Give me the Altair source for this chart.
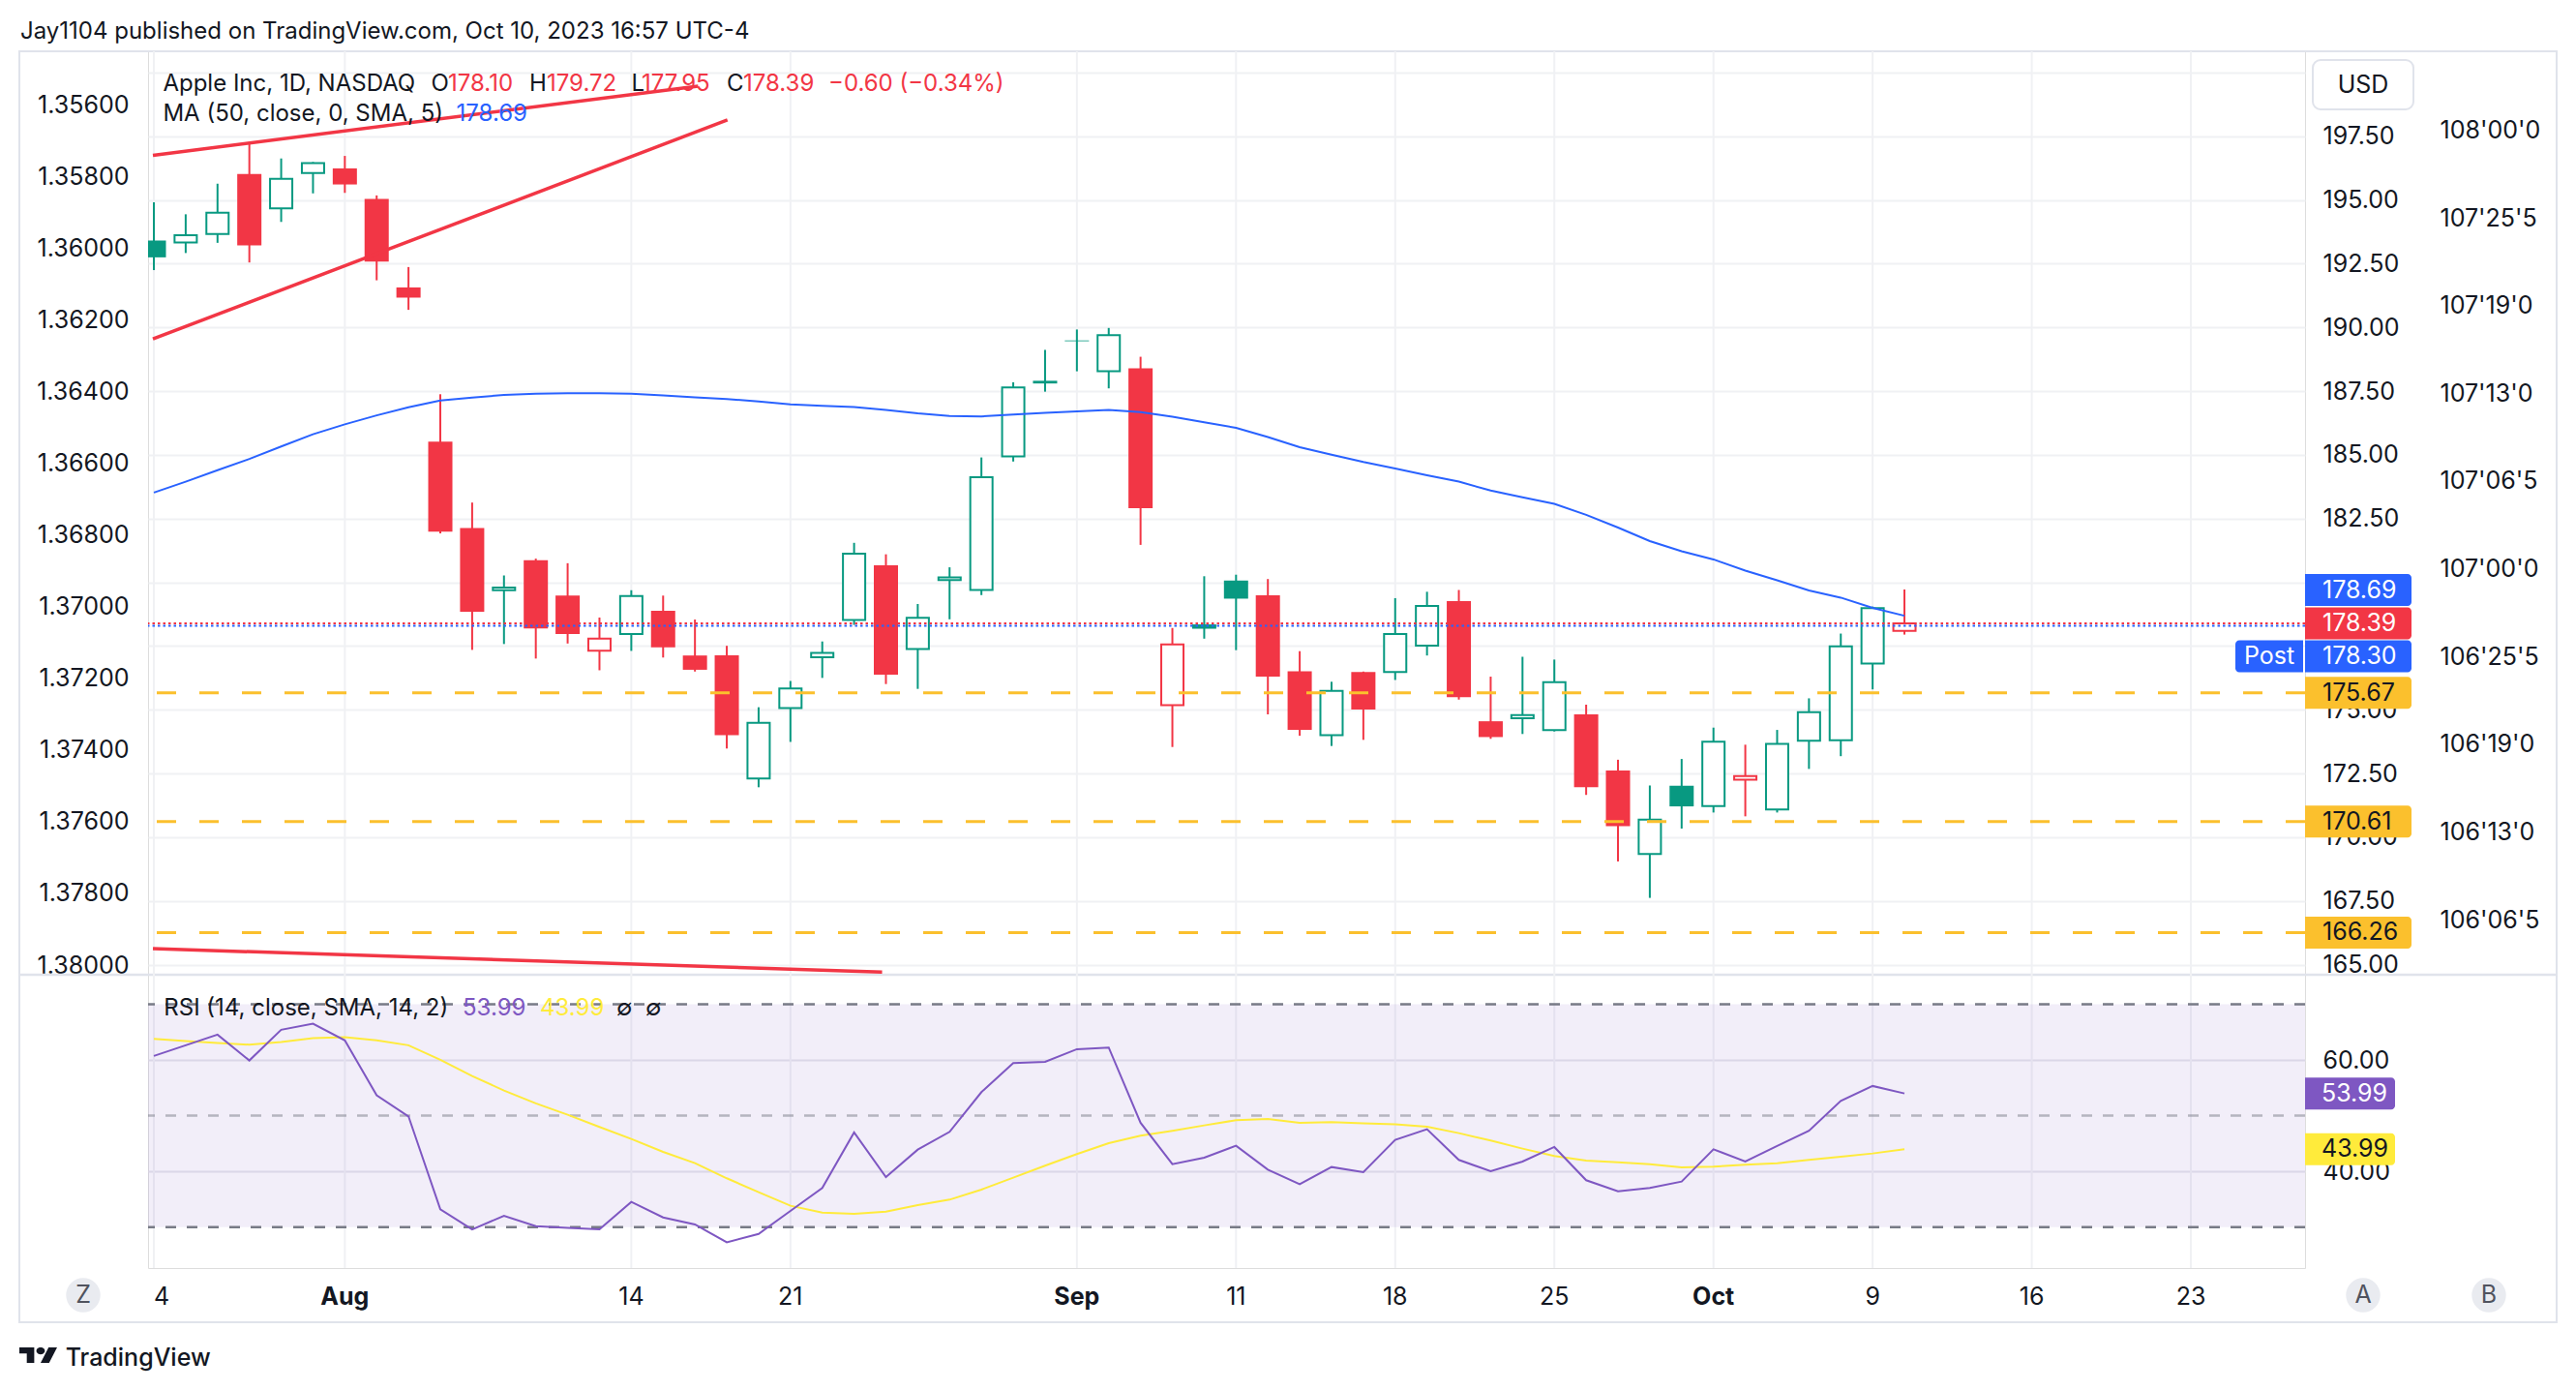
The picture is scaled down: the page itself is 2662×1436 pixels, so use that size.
import altair as alt
import pandas as pd

# ---------------- data ----------------
dates = ["2023-07-24", "2023-07-25", "2023-07-26", "2023-07-27", "2023-07-28", "2023-07-31",
         "2023-08-01", "2023-08-02", "2023-08-03", "2023-08-04", "2023-08-07", "2023-08-08",
         "2023-08-09", "2023-08-10", "2023-08-11", "2023-08-14", "2023-08-15", "2023-08-16",
         "2023-08-17", "2023-08-18", "2023-08-21", "2023-08-22", "2023-08-23", "2023-08-24",
         "2023-08-25", "2023-08-28", "2023-08-29", "2023-08-30", "2023-08-31", "2023-09-01",
         "2023-09-05", "2023-09-06", "2023-09-07", "2023-09-08", "2023-09-11", "2023-09-12",
         "2023-09-13", "2023-09-14", "2023-09-15", "2023-09-18", "2023-09-19", "2023-09-20",
         "2023-09-21", "2023-09-22", "2023-09-25", "2023-09-26", "2023-09-27", "2023-09-28",
         "2023-09-29", "2023-10-02", "2023-10-03", "2023-10-04", "2023-10-05", "2023-10-06",
         "2023-10-09", "2023-10-10"]

opens = [193.41, 193.33, 193.67, 196.02, 194.67, 196.06, 196.24, 195.04, 191.57, 185.52,
         182.13, 179.69, 180.87, 179.48, 177.32, 177.97, 178.88, 177.13, 177.14, 172.30,
         175.07, 177.06, 178.52, 180.67, 177.38, 180.09, 179.70, 184.94, 187.84, 189.49,
         188.28, 188.40, 175.18, 178.35, 180.07, 179.49, 176.51, 174.00, 176.48, 176.48,
         177.52, 179.26, 174.55, 174.67, 174.20, 174.82, 172.62, 169.34, 172.02, 171.22,
         172.26, 171.09, 173.79, 173.80, 176.81, 178.10]
highs = [194.91, 194.44, 195.64, 197.20, 196.63, 196.49, 196.73, 195.18, 192.37, 187.38,
         183.13, 180.27, 180.93, 180.75, 178.62, 179.69, 179.48, 178.54, 177.51, 175.10,
         176.13, 177.68, 181.55, 181.10, 179.15, 180.59, 184.90, 187.85, 189.12, 189.92,
         189.98, 188.85, 178.21, 180.24, 180.30, 180.13, 177.30, 176.10, 176.50, 179.38,
         179.63, 179.70, 176.30, 177.08, 176.97, 175.20, 173.04, 172.03, 173.07, 174.30,
         173.63, 174.21, 175.45, 177.99, 179.05, 179.72]
lows = [192.25, 192.92, 193.32, 192.55, 194.14, 195.26, 195.28, 191.85, 190.69, 181.92,
        177.35, 177.58, 177.01, 177.60, 176.55, 177.31, 177.05, 176.50, 173.48, 171.96,
        173.74, 176.25, 178.33, 176.01, 175.82, 178.55, 179.50, 184.74, 187.48, 188.28,
        187.61, 181.47, 173.54, 177.79, 177.34, 174.82, 173.98, 173.58, 173.82, 176.17,
        177.13, 175.40, 173.86, 174.05, 174.15, 171.66, 169.05, 167.62, 170.34, 170.97,
        170.82, 170.97, 172.68, 173.18, 175.80, 177.95]
closes = [192.75, 193.62, 194.50, 193.22, 195.83, 196.45, 195.61, 192.58, 191.17, 181.99,
          178.85, 179.80, 178.19, 177.97, 177.79, 179.46, 177.45, 176.57, 174.00, 174.49,
          175.84, 177.23, 181.12, 176.38, 178.61, 180.19, 184.12, 187.65, 187.87, 189.46,
          189.70, 182.91, 177.56, 178.18, 179.36, 176.30, 174.21, 175.74, 175.01, 177.97,
          179.07, 175.49, 173.93, 174.79, 176.08, 171.96, 170.43, 170.69, 171.21, 173.75,
          172.40, 173.66, 174.91, 177.49, 178.99, 178.39]
prev_close_first = 191.94

ma50 = [183.52, 183.95, 184.40, 184.84, 185.33, 185.81, 186.20, 186.55, 186.87, 187.13,
        187.25, 187.35, 187.40, 187.42, 187.42, 187.40, 187.33, 187.26, 187.19, 187.10,
        186.98, 186.93, 186.88, 186.76, 186.63, 186.53, 186.51, 186.58, 186.65, 186.71,
        186.76, 186.68, 186.50, 186.28, 186.06, 185.70, 185.30, 185.01, 184.72, 184.47,
        184.20, 183.95, 183.60, 183.34, 183.08, 182.65, 182.15, 181.62, 181.22, 180.90,
        180.46, 180.08, 179.68, 179.40, 179.00, 178.69]

rsi = [60.73, 62.64, 64.55, 59.91, 65.42, 66.52, 63.51, 53.65, 49.88, 33.19,
       29.59, 32.03, 30.17, 29.88, 29.59, 34.52, 31.74, 30.47, 27.28, 28.78,
       32.90, 37.02, 46.99, 38.99, 43.91, 47.10, 54.23, 59.45, 59.68, 61.94,
       62.23, 48.72, 41.30, 42.46, 44.61, 40.32, 37.71, 40.78, 39.86, 45.65,
       47.57, 42.06, 40.03, 41.77, 44.38, 38.41, 36.44, 37.02, 38.17, 43.97,
       41.77, 44.55, 47.28, 52.67, 55.33, 53.99]
rsi_ma = [63.80, 63.39, 63.04, 62.75, 63.22, 63.91, 64.09, 63.51, 62.64, 60.03,
          57.13, 54.52, 52.20, 50.17, 47.97, 45.83, 43.51, 41.48, 38.76, 36.26,
          33.83, 32.61, 32.38, 32.78, 33.94, 34.93, 36.73, 38.87, 41.02, 43.10,
          45.07, 46.41, 47.28, 48.26, 49.19, 49.40, 48.72, 48.84, 48.61, 48.44,
          48.03, 46.87, 45.54, 44.09, 42.76, 41.94, 41.65, 41.30, 40.73, 40.84,
          41.19, 41.48, 42.06, 42.64, 43.22, 43.99]

support_levels = [175.67, 170.61, 166.26]
last_price = 178.39
post_price = 178.30

trend_i = [[-0.03, 17.1], [-0.03, 18.02], [-0.03, 22.88]]
trend_p = [[196.75, 199.47], [189.55, 198.14], [165.63, 164.71]]

tick_idx = [0, 6, 15, 20, 29, 34, 39, 44, 49, 54, 59, 64]
tick_labels = ["4", "Aug", "14", "21", "Sep", "11", "18", "25", "Oct", "9", "16", "23"]
month_ticks = [6, 29, 49]
price_ticks = [165.0, 167.5, 170.0, 172.5, 175.0, 177.5, 180.0, 182.5, 185.0, 187.5,
               190.0, 192.5, 195.0, 197.5, 200.0]
price_hidden = [177.5, 180.0, 200.0]   # labels covered by the badges / USD box
rsi_ticks = [40, 60]
left_ticks = [1.356, 1.358, 1.360, 1.362, 1.364, 1.366, 1.368, 1.370, 1.372, 1.374,
              1.376, 1.378, 1.380]
bond_ticks = [108.0, 107.8, 107.6, 107.4, 107.2, 107.0, 106.8, 106.6, 106.4, 106.2]
bond_labels = ["108'00'0", "107'25'5", "107'19'0", "107'13'0", "107'06'5", "107'00'0",
               "106'25'5", "106'19'0", "106'13'0", "106'06'5"]

# ---------------- style ----------------
GREEN = "#089981"
RED = "#F23645"
BLUE = "#2962FF"
PURPLE = "#7E57C2"
YELLOW = "#FFEB3B"
AMBER = "#FBC02D"
INK = "#131722"
GRID = "#F0F1F4"
BORDER = "#E0E3EB"
GRAY = "#787B86"
FONT = "Inter"
FS = 24      # legend / header text
AFS = 25     # axis and badge numbers

W, H, PH = 2229, 1257, 954

xs = alt.Scale(domain=[-0.0303, 67.434], nice=False, zero=False)
ps = alt.Scale(domain=[164.605, 200.834], range=[PH, 0], nice=False, zero=False)
rs = alt.Scale(domain=[22.65, 75.30], range=[H, PH], nice=False, zero=False)
ls = alt.Scale(domain=[1.3545, 1.38027], range=[0, PH], nice=False, zero=False)
bs = alt.Scale(domain=[106.0744, 108.1796], range=[PH, 0], nice=False, zero=False)

common = dict(domain=False, ticks=False, tickSize=0, labelFontSize=AFS, labelColor=INK,
              labelFont=FONT, labelOverlap=False, title=None)

bond_expr = "[" + ",".join('"%s"' % s for s in bond_labels) + "][indexof([" + \
    ",".join(repr(v) for v in bond_ticks) + "], datum.value)]"
price_expr = "indexof([" + ",".join(repr(v) for v in price_hidden) + \
    "], datum.value) >= 0 ? '' : format(datum.value, '.2f')"

price_axis = alt.Axis(orient="right", values=price_ticks, labelExpr=price_expr, grid=True,
                      gridColor=GRID, gridWidth=2, labelPadding=18, labelFlush=False, **common)
rsi_axis = alt.Axis(orient="right", values=rsi_ticks, format=".2f", grid=True,
                    gridColor="#E6E6EC", gridWidth=2, labelPadding=18, labelFlush=False, **common)
left_axis = alt.Axis(orient="left", values=left_ticks, format=".5f", grid=False,
                     labelPadding=20, labelFlush=False, **common)
bond_axis = alt.Axis(orient="right", offset=120, values=bond_ticks, labelExpr=bond_expr,
                     grid=False, labelPadding=19, labelFlush=False, **common)


def X():
    return alt.X("i:Q", scale=xs, axis=None, title=None)


def YP(field, axis=None):
    return alt.Y(field + ":Q", scale=ps, axis=axis, title=None)


def YR(field, axis=None):
    return alt.Y(field + ":Q", scale=rs, axis=axis, title=None)


# ---------------- tables ----------------
n = len(closes)
prev = [prev_close_first] + closes[:-1]
candles = pd.DataFrame({
    "i": list(range(n)), "date": dates, "open": opens, "high": highs,
    "low": lows, "close": closes, "ma": ma50, "rsi": rsi, "rsi_ma": rsi_ma,
    "col": [GREEN if c >= p else RED for c, p in zip(closes, prev)],
    "hollow": [c > o for o, c in zip(opens, closes)],
})
ticks_df = pd.DataFrame({
    "i": tick_idx, "t": tick_labels,
    "month": [v in month_ticks for v in tick_idx],
    "first": [k == 0 for k in range(len(tick_idx))],
})
sup_df = pd.DataFrame({"p": support_levels})
dot_df = pd.DataFrame({"p": [last_price, post_price], "c": [RED, BLUE]})
trend_df = pd.DataFrame({
    "g": [k for k in range(len(trend_i)) for _ in range(2)],
    "i": [v for pair in trend_i for v in pair],
    "p": [v for pair in trend_p for v in pair],
})
one = pd.DataFrame({"k": [0]})

layers = []

# ---------------- decorations (back) ----------------
layers.append(alt.Chart(one).mark_rect(fillOpacity=0, stroke=BORDER, strokeWidth=2).encode(
    x=alt.value(-133), x2=alt.value(W + 260), y=alt.value(0), y2=alt.value(H + 56)))
layers.append(alt.Chart(one).mark_rule(color=BORDER, strokeWidth=2.5).encode(
    x=alt.value(-133), x2=alt.value(W + 260), y=alt.value(PH)))
# time grid + time labels (drawn through the x scale)
layers.append(alt.Chart(ticks_df).mark_rule(color=GRID, strokeWidth=2).encode(x=X()))
layers.append(alt.Chart(ticks_df).transform_filter("!datum.month && !datum.first").mark_text(
    baseline="middle", align="center", fontSize=AFS, font=FONT, color=INK).encode(
    x=X(), y=alt.value(H + 30), text="t:N"))
layers.append(alt.Chart(ticks_df).transform_filter("datum.month").mark_text(
    baseline="middle", align="center", fontSize=AFS, font=FONT, color=INK, fontWeight="bold").encode(
    x=X(), y=alt.value(H + 30), text="t:N"))
layers.append(alt.Chart(ticks_df).transform_filter("datum.first").mark_text(
    baseline="middle", align="left", fontSize=AFS, font=FONT, color=INK).encode(
    x=X(), y=alt.value(H + 30), text="t:N"))

# ---------------- RSI pane ----------------
layers.append(alt.Chart(pd.DataFrame({"lo": [30], "hi": [70]})).mark_rect(
    color=PURPLE, opacity=0.1).encode(x=alt.value(0), x2=alt.value(W), y=YR("lo"), y2="hi"))
layers.append(alt.Chart(pd.DataFrame({"v": [70, 30]})).mark_rule(
    color=GRAY, strokeWidth=2.5, strokeDash=[11, 11]).encode(y=YR("v", rsi_axis)))
layers.append(alt.Chart(pd.DataFrame({"v": [50]})).mark_rule(
    color=GRAY, opacity=0.5, strokeWidth=2.5, strokeDash=[11, 11]).encode(y=YR("v")))
layers.append(alt.Chart(candles).mark_line(color=YELLOW, strokeWidth=2, clip=True).encode(
    x=X(), y=YR("rsi_ma")))
layers.append(alt.Chart(candles).mark_line(color=PURPLE, strokeWidth=2, clip=True).encode(
    x=X(), y=YR("rsi")))

# ---------------- price pane ----------------
layers.append(alt.Chart(candles).mark_rule(strokeWidth=2, clip=True).encode(
    x=X(), y=YP("low", price_axis), y2="high", color=alt.Color("col:N", scale=None)))
layers.append(alt.Chart(candles).transform_filter("!datum.hollow").mark_bar(size=25, clip=True).encode(
    x=X(), y=YP("open"), y2="close", color=alt.Color("col:N", scale=None)))
layers.append(alt.Chart(candles).transform_filter("datum.hollow").mark_bar(
    size=23, fill="white", strokeWidth=2, clip=True).encode(
    x=X(), y=YP("open"), y2="close", stroke=alt.Stroke("col:N", scale=None)))
layers.append(alt.Chart(candles).mark_line(color=BLUE, strokeWidth=2, clip=True).encode(
    x=X(), y=YP("ma")))
layers.append(alt.Chart(sup_df).mark_rule(color=AMBER, strokeWidth=3, strokeDash=[20, 24]).encode(
    y=YP("p")))
layers.append(alt.Chart(dot_df).mark_rule(strokeWidth=2, strokeDash=[2.5, 3]).encode(
    y=YP("p"), color=alt.Color("c:N", scale=None)))
layers.append(alt.Chart(trend_df).mark_line(color=RED, strokeWidth=3.5, clip=True).encode(
    x=X(), y=YP("p"), detail="g:N"))


def badge(value, yfun, fill, tcolor, dy=0.0, x0=W, x1=W + 110, tx=W + 18, label=None,
          align="left", right_round=True):
    d = pd.DataFrame({"p": [value], "t": [label if label else "%.2f" % value]})
    corners = dict(cornerRadiusTopRight=4, cornerRadiusBottomRight=4) if right_round else \
        dict(cornerRadiusTopLeft=4, cornerRadiusBottomLeft=4)
    r = alt.Chart(d).mark_rect(color=fill, yOffset=dy - 16.5, y2Offset=dy + 16.5, **corners).encode(
        x=alt.value(x0), x2=alt.value(x1), y=yfun("p"), y2="p")
    t = alt.Chart(d).mark_text(align=align, baseline="middle", fontSize=AFS, font=FONT,
                               color=tcolor, dy=dy).encode(x=alt.value(tx), y=yfun("p"), text="t:N")
    return [r, t]


layers += badge(ma50[-1], YP, BLUE, "white", dy=-26.5)
layers += badge(last_price, YP, RED, "white")
layers += badge(post_price, YP, BLUE, "white", dy=31.6)
layers += badge(post_price, YP, BLUE, "white", dy=31.6, x0=W - 72, x1=W - 2, tx=W - 37,
                label="Post", align="center", right_round=False)
for lv in support_levels:
    layers += badge(lv, YP, AMBER, INK)
layers += badge(rsi[-1], YR, PURPLE, "white", x1=W + 93, tx=W + 17)
layers += badge(rsi_ma[-1], YR, YELLOW, INK, x1=W + 93, tx=W + 17)

# ---------------- extra price scales ----------------
layers.append(alt.Chart(pd.DataFrame({"v": [left_ticks[0]]})).mark_point(opacity=0).encode(
    y=alt.Y("v:Q", scale=ls, axis=left_axis, title=None)))
layers.append(alt.Chart(pd.DataFrame({"v": [bond_ticks[0]]})).mark_point(opacity=0).encode(
    y=alt.Y("v:Q", scale=bs, axis=bond_axis, title=None)))


# ---------------- texts ----------------
def txt(s, x, y, color=INK, size=FS, align="left", weight="normal", baseline="middle"):
    return alt.Chart(one).mark_text(text=s, align=align, baseline=baseline, fontSize=size,
                                    fontWeight=weight, color=color, font=FONT).encode(
        x=alt.value(x), y=alt.value(y))


layers.append(alt.Chart(one).mark_rect(fill="white", stroke=BORDER, strokeWidth=2, cornerRadius=8).encode(
    x=alt.value(W + 8), x2=alt.value(W + 112), y=alt.value(9), y2=alt.value(60)))

chg = closes[-1] - closes[-2]
chg_txt = ("%+.2f (%+.2f%%)" % (chg, chg / closes[-2] * 100)).replace("-", "\u2212").replace("+", "")

layers += [
    txt("Jay1104 published on TradingView.com, Oct 10, 2023 16:57 UTC-4", -132, -19.7),
    txt("Apple Inc, 1D, NASDAQ", 15.4, 34.3),
    txt("O", 292.6, 34.3), txt("%.2f" % opens[-1], 310, 34.3, RED),
    txt("H", 394, 34.3), txt("%.2f" % highs[-1], 412, 34.3, RED),
    txt("L", 499.6, 34.3), txt("%.2f" % lows[-1], 510, 34.3, RED),
    txt("C", 598, 34.3), txt("%.2f" % closes[-1], 615, 34.3, RED),
    txt(chg_txt, 703, 34.3, RED),
    txt("MA (50, close, 0, SMA, 5)", 15.4, 65.3),
    txt("%.2f" % ma50[-1], 318.6, 65.3, BLUE),
    txt("RSI (14, close, SMA, 14, 2)", 16.3, 988.7),
    txt("%.2f" % rsi[-1], 325, 988.7, PURPLE),
    txt("%.2f" % rsi_ma[-1], 405, 988.7, YELLOW),
    txt("\u2205", 484, 988.7), txt("\u2205", 514, 988.7),
    txt("USD", W + 60, 34.5, align="center", size=AFS),
]

btn_x = [-67, W + 60, W + 190]
btn_t = ["Z", "A", "B"]
for bx, bt in zip(btn_x, btn_t):
    layers.append(alt.Chart(one).mark_point(shape="circle", size=1257, filled=True,
                                            color="#E9EBF0", opacity=1, strokeWidth=0).encode(
        x=alt.value(bx), y=alt.value(1285)))
    layers.append(txt(bt, bx, 1285, color="#50535E", align="center", size=AFS))


def lp(x, y):
    return "%.4f,%.4f" % (x / 35.5 * 2 - 1, (y - 13) / 18 * 0.82)


logo_path = ("M" + lp(0, 4) + "L" + lp(14, 4) + "L" + lp(14, 22) + "L" + lp(7, 22) + "L" + lp(7, 11) +
             "L" + lp(0, 11) + "Z" +
             "M" + lp(28, 22) + "L" + lp(20, 22) + "L" + lp(27.5, 4) + "L" + lp(35.5, 4) + "Z" +
             "M" + lp(16, 8) + "A0.2254,0.1822 0 1,0 " + lp(24, 8) +
             "A0.2254,0.1822 0 1,0 " + lp(16, 8) + "Z")
layers.append(alt.Chart(one).mark_point(shape=logo_path, size=1521, filled=True, color=INK,
                                        opacity=1, strokeWidth=0).encode(
    x=alt.value(-113.5), y=alt.value(1347)))
layers.append(txt("TradingView", -85.3, 1357.5, size=25, baseline="alphabetic", weight=500))

chart = alt.layer(*layers).resolve_scale(y="independent").resolve_axis(y="independent").properties(
    width=W, height=H,
    autosize=alt.AutoSizeParams(type="none"),
    padding={"left": 145, "top": 45, "right": 262, "bottom": 110},
    background="white",
).configure_view(strokeWidth=0).configure(font=FONT)

chart.save("out.html", embed_options={"renderer": "svg", "actions": False})
